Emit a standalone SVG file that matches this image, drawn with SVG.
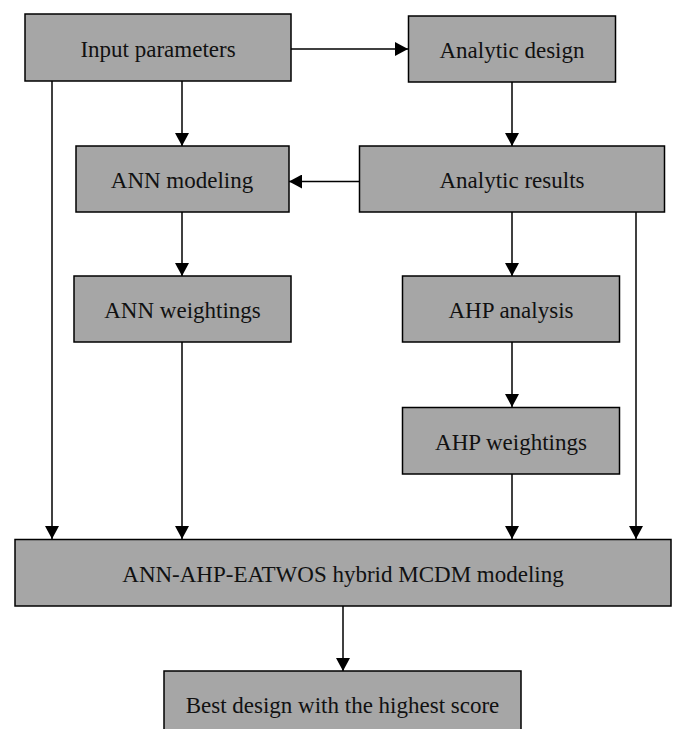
<svg xmlns="http://www.w3.org/2000/svg" width="676" height="729" viewBox="0 0 676 729">
<style>
.box{fill:#a6a6a6;stroke:#000;stroke-width:1.5}
.t{font-family:"Liberation Serif","Times New Roman",serif;font-size:23px;fill:#111;text-anchor:middle}
.c{stroke:#000;stroke-width:1.5;fill:none;marker-end:url(#ah)}
</style>
<defs>
<marker id="ah" markerUnits="userSpaceOnUse" markerWidth="14" markerHeight="14" refX="13" refY="7" orient="auto">
<path d="M0,0 L13,7 L0,14 Z" fill="#000"/>
</marker>
</defs>
<rect width="676" height="729" fill="#fff"/>
<g id="connectors">
<path class="c" d="M291,49 L408,49"/>
<path class="c" d="M182,81 L182,146"/>
<path class="c" d="M512,82 L512,146"/>
<path class="c" d="M359,181.5 L289,181.5"/>
<path class="c" d="M182,212 L182,276"/>
<path class="c" d="M512,212 L512,276"/>
<path class="c" d="M512,342 L512,407"/>
<path class="c" d="M52,81 L52,539"/>
<path class="c" d="M182,342 L182,539"/>
<path class="c" d="M512,474 L512,539"/>
<path class="c" d="M636,212 L636,539"/>
<path class="c" d="M343,606 L343,671"/>
</g>
<g id="input"><rect class="box" x="25" y="14" width="266" height="67"/><text class="t" x="158" y="56.5">Input parameters</text></g>
<g id="analytic-design"><rect class="box" x="408.5" y="16" width="207" height="66"/><text class="t" x="512" y="58">Analytic design</text></g>
<g id="ann-modeling"><rect class="box" x="76" y="146" width="213" height="66"/><text class="t" x="182" y="188">ANN modeling</text></g>
<g id="analytic-results"><rect class="box" x="359.5" y="146" width="305" height="66"/><text class="t" x="512" y="188">Analytic results</text></g>
<g id="ann-weightings"><rect class="box" x="74" y="276" width="217" height="66"/><text class="t" x="182.5" y="318">ANN weightings</text></g>
<g id="ahp-analysis"><rect class="box" x="402.5" y="276" width="217" height="66"/><text class="t" x="511" y="318">AHP analysis</text></g>
<g id="ahp-weightings"><rect class="box" x="402.5" y="407.5" width="217" height="66.5"/><text class="t" x="511" y="449.5">AHP weightings</text></g>
<g id="hybrid"><rect class="box" x="15" y="539.5" width="656" height="66.5"/><text class="t" x="343" y="581.5">ANN-AHP-EATWOS hybrid MCDM modeling</text></g>
<g id="best"><rect class="box" x="164" y="671" width="357" height="80"/><text class="t" x="342.5" y="713">Best design with the highest score</text></g>
</svg>
